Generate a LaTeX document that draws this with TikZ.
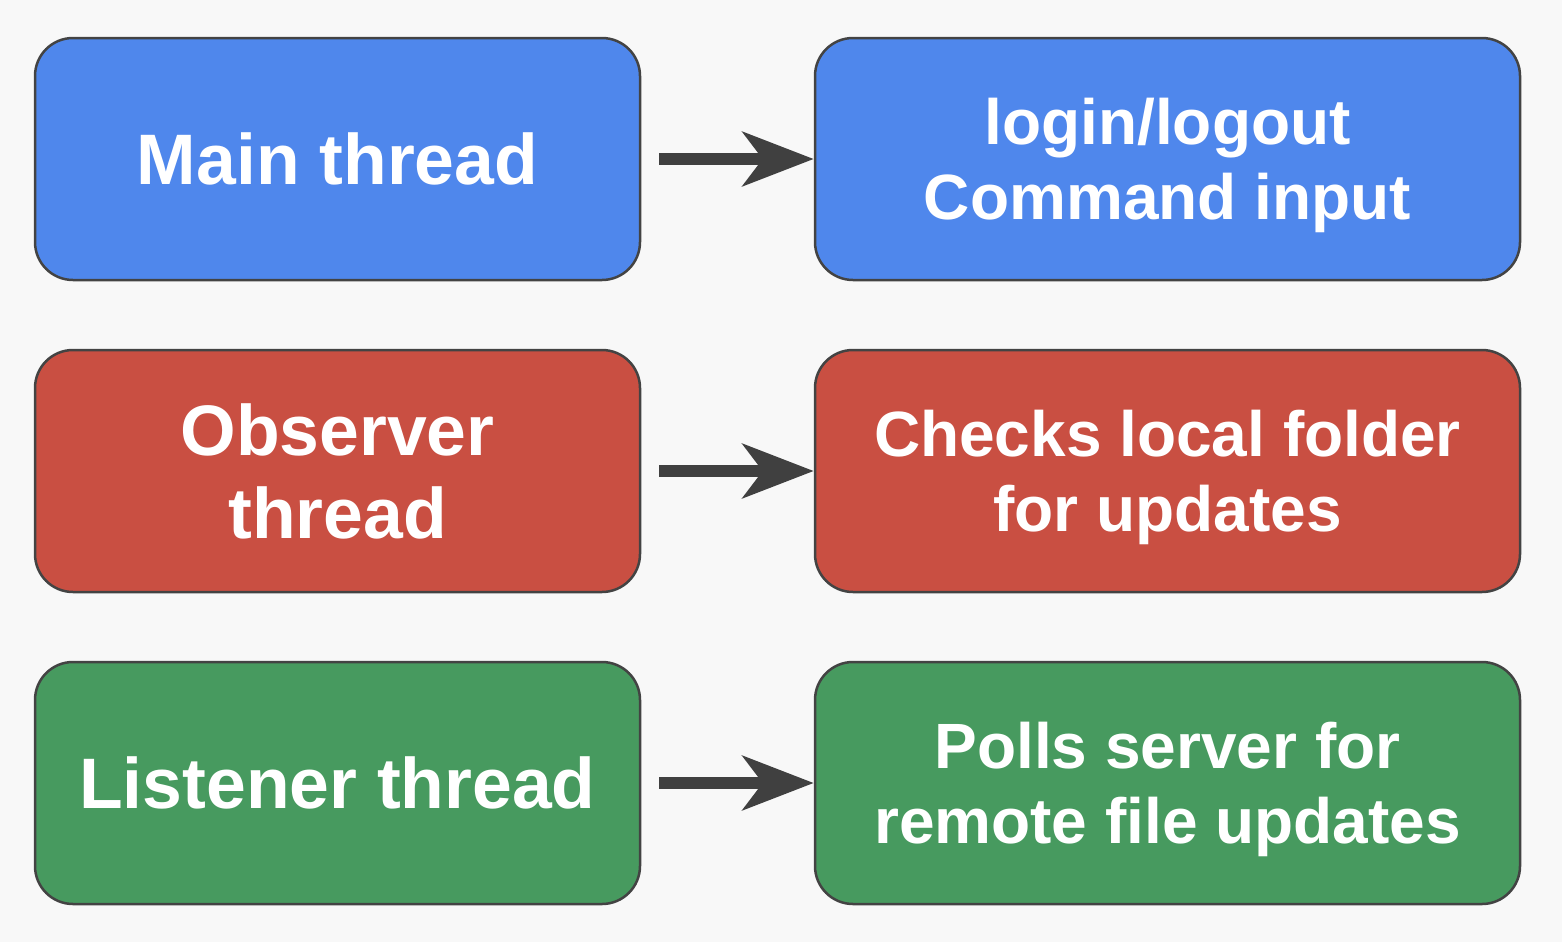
\documentclass[tikz,border=0pt]{standalone}
\usepackage{fontspec}
\setmainfont{Liberation Sans}
\usepackage{xcolor}
\usetikzlibrary{arrows.meta}
\definecolor{bgcolor}{HTML}{F8F8F8}
\definecolor{edgecolor}{HTML}{434343}
\definecolor{mainblue}{HTML}{4F87EC}
\definecolor{observerred}{HTML}{C94F42}
\definecolor{listenergreen}{HTML}{479A5F}
\begin{document}
\begin{tikzpicture}[x=0.5pt, y=-0.5pt,
	threadbox/.style={draw=edgecolor, line width=1.25pt, rounded corners=19pt,
		minimum width=302.5pt, minimum height=121pt, inner sep=0pt,
		text=white, align=center, text depth=0pt,
		font=\fontsize{35.75}{41.5}\selectfont\bfseries},
	taskbox/.style={threadbox, minimum width=352.5pt,
		font=\fontsize{32}{37.5}\selectfont\bfseries},
	flowarrow/.style={draw=edgecolor!95!black, line width=6pt, shorten <=9pt,
		-{Stealth[length=35.5pt, width=27pt, inset=10pt]}}]
	% background
	\fill[bgcolor] (0,0) rectangle (1562,942);
	% draw thread boxes
	\node[threadbox, fill=mainblue] (main) at (337.5,159) {Main thread};
	\node[threadbox, fill=observerred] (observer) at (337.5,471) {Observer\\thread};
	\node[threadbox, fill=listenergreen] (listener) at (337.5,783) {Listener thread};
	% draw task boxes
	\node[taskbox, fill=mainblue] (login) at (1167.5,159) {login/logout\\Command input};
	\node[taskbox, fill=observerred] (checks) at (1167.5,471) {Checks local folder\\for updates};
	\node[taskbox, fill=listenergreen] (polls) at (1167.5,783) {Polls server for\\remote file updates};
	% add arrows
	\draw[flowarrow] (main) -- (login);
	\draw[flowarrow] (observer) -- (checks);
	\draw[flowarrow] (listener) -- (polls);
\end{tikzpicture}
\end{document}
